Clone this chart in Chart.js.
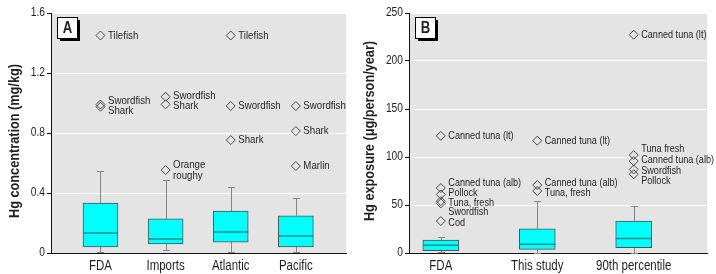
<!DOCTYPE html>
<html>
<head>
<meta charset="utf-8">
<script src="https://cdn.jsdelivr.net/npm/chart.js@4.4.0/dist/chart.umd.min.js"></script>
<style>
  body{margin:0;background:#fff;}
  .panel{position:absolute;top:0;height:274px;}
  #wrapA{left:0;width:356px;}
  #wrapB{left:356px;width:360px;}
</style>
</head>
<body>
<div class="panel" id="wrapA"><canvas id="chartA"></canvas></div>
<div class="panel" id="wrapB"><canvas id="chartB"></canvas></div>
<script>
// ---- Panel A: Hg concentration (mg/kg) ----
const catsA = ["FDA", "Imports", "Atlantic", "Pacific"];
const lowA = [0.007, 0.02, 0.01, 0.01];
const q1A  = [0.04, 0.06, 0.073, 0.04];
const medA = [0.133, 0.093, 0.14, 0.113];
const q3A  = [0.333, 0.227, 0.28, 0.247];
const highA = [0.547, 0.487, 0.44, 0.367];
const outCatA = [1, 1, 1, 2, 2, 2, 3, 3, 3, 4, 4, 4];
const outValA = [1.45, 0.99, 0.975, 1.042, 0.991, 0.553, 1.45, 0.98, 0.753, 0.98, 0.813, 0.58];
const outNameA = ["Tilefish", "Swordfish", "Shark", "Swordfish", "Shark", "Orange\nroughy",
                  "Tilefish", "Swordfish", "Shark", "Swordfish", "Shark", "Marlin"];
const ticksA = [0, 0.4, 0.8, 1.2, 1.6];
const tickLabelsA = ["0", "0.4", "0.8", "1.2", "1.6"];

// ---- Panel B: Hg exposure (ug/person/year) ----
const catsB = ["FDA", "This study", "90th percentile"];
const lowB = [1, 0, 0];
const q1B  = [2.4, 3.8, 5.5];
const medB = [8, 9, 15];
const q3B  = [13.5, 25.3, 33.3];
const highB = [16.3, 53.8, 49];
const outCatB = [1, 1, 1, 1, 1, 1, 2, 2, 2, 3, 3, 3, 3, 3];
const outValB = [122, 67.7, 61, 54, 51.7, 33.3, 117, 70.8, 64.6, 227.4, 102, 95.8, 87, 82];
const outNameB = ["Canned tuna (lt)", "Canned tuna (alb)", "Pollock", "Tuna, fresh", "Swordfish", "Cod",
                  "Canned tuna (lt)", "Canned tuna (alb)", "Tuna, fresh",
                  "Canned tuna (lt)", "Tuna fresh", "Canned tuna (alb)", "Swordfish", "Pollock"];
const ticksB = [0, 50, 100, 150, 200, 250];
const tickLabelsB = ["0", "50", "100", "150", "200", "250"];

// label nudges (px) so stacked names don't collide, as in the original
const labelDyA = [0, -4, 4, -1, 1.5, 0, 0, 0, 0, 0, 0, 0];
const labelDyB = [0, -5, -2, 1.5, 9, 2, 0, -2, 2, 0, -6, -1, 1, 7];

const FONT = '"Liberation Sans", Arial, sans-serif';
const INK = '#231f20';
const SQUEEZE = 0.82; // no narrow font installed, so squeeze regular one

// condensed text helper
function txt(ctx, s, x, y, size, opts = {}) {
  ctx.save();
  ctx.translate(x, y);
  if (opts.rot) ctx.rotate(opts.rot);
  ctx.scale(SQUEEZE, 1);
  ctx.font = (opts.bold ? 'bold ' : '') + size + 'px ' + FONT;
  ctx.fillStyle = INK;
  ctx.textAlign = opts.align || 'left';
  ctx.textBaseline = 'middle';
  ctx.fillText(s, 0, 0);
  ctx.restore();
}

function makePanel(id, o) {
  const boxPlugin = {
    id: 'box_' + id,
    beforeDraw(chart) {
      const {ctx, chartArea: a} = chart;
      ctx.save();
      ctx.fillStyle = '#e4e4e4';
      ctx.fillRect(a.left, a.top, a.right - a.left, a.bottom - a.top);
      ctx.restore();
    },
    beforeDatasetsDraw(chart) {
      const {ctx, scales: {x, y}} = chart;
      ctx.save();
      ctx.strokeStyle = '#858585';
      ctx.lineWidth = 1;
      o.cats.forEach((c, i) => {
        const px = Math.round(x.getPixelForValue(i + 1)) + 0.5;
        const hi = Math.round(y.getPixelForValue(o.high[i])) + 0.5;
        const lo = Math.round(y.getPixelForValue(o.low[i])) + 0.5;
        ctx.beginPath();
        ctx.moveTo(px, hi);
        ctx.lineTo(px, y.getPixelForValue(o.q3[i]));
        ctx.moveTo(px, y.getPixelForValue(o.q1[i]));
        ctx.lineTo(px, lo);
        // caps
        ctx.moveTo(px - 3.5, hi); ctx.lineTo(px + 3.5, hi);
        ctx.moveTo(px - 3.5, lo); ctx.lineTo(px + 3.5, lo);
        ctx.stroke();
      });
      ctx.restore();
    },
    afterDatasetsDraw(chart) {
      const {ctx, scales: {y}} = chart;
      ctx.save();
      // medians
      ctx.strokeStyle = '#1f8c8c';
      ctx.lineWidth = 1.5;
      chart.getDatasetMeta(0).data.forEach((bar, i) => {
        const py = y.getPixelForValue(o.med[i]);
        ctx.beginPath();
        ctx.moveTo(bar.x - bar.width / 2, py);
        ctx.lineTo(bar.x + bar.width / 2, py);
        ctx.stroke();
      });
      ctx.restore();
      // outlier names
      chart.getDatasetMeta(1).data.forEach((pt, i) => {
        const lines = o.outName[i].split('\n');
        const y0 = pt.y + o.labelDy[i] - (lines.length - 1) * 5.5;
        lines.forEach((ln, k) => txt(ctx, ln, pt.x + 7.5, y0 + k * 11, o.labelSize));
      });
    },
    afterDraw(chart) {
      const {ctx, chartArea: a, scales: {x, y}} = chart;
      // tick labels
      o.ticks.forEach((v, i) => txt(ctx, o.tickLabels[i], a.left - 6, y.getPixelForValue(v), 12.5, {align: 'right'}));
      o.cats.forEach((c, i) => txt(ctx, c, x.getPixelForValue(i + 1), a.bottom + 13, 14, {align: 'center'}));
      // y-axis title
      txt(ctx, o.title, o.titleX, o.titleY, 15.5, {bold: true, align: 'center', rot: -Math.PI / 2});
      // panel letter box
      ctx.save();
      const bx = a.left + 6, by = a.top + 4;
      ctx.fillStyle = '#000';
      ctx.fillRect(bx + 3, by + 3, 20, 21);
      ctx.fillStyle = '#fff';
      ctx.fillRect(bx, by, 20, 21);
      ctx.strokeStyle = '#000';
      ctx.lineWidth = 1;
      ctx.strokeRect(bx + 0.5, by + 0.5, 20, 21);
      ctx.restore();
      txt(ctx, o.letter, bx + 10.5, by + 11.5, 16, {bold: true, align: 'center'});
    }
  };

  return new Chart(document.getElementById(id), {
    type: 'bar',
    data: {
      datasets: [
        {
          data: o.cats.map((c, i) => ({x: i + 1, y: [o.q1[i], o.q3[i]]})),
          backgroundColor: '#00ffff',
          borderColor: '#505050',
          borderWidth: 1,
          borderSkipped: false,
          barThickness: o.boxW
        },
        {
          type: 'scatter',
          data: o.outVal.map((v, i) => ({x: o.outCat[i], y: v})),
          pointStyle: 'rectRot',
          radius: 4.5,
          borderColor: '#4a4a4a',
          borderWidth: 1,
          backgroundColor: 'rgba(0,0,0,0)'
        }
      ]
    },
    options: {
      responsive: true,
      maintainAspectRatio: false,
      animation: false,
      events: [],
      layout: {padding: {top: 13, right: o.padRight, left: 0, bottom: 0}},
      plugins: {legend: {display: false}, tooltip: {enabled: false}},
      scales: {
        x: {
          type: 'linear',
          min: o.xMin, max: o.xMax,
          offset: false,
          afterBuildTicks: s => { s.ticks = o.cats.map((c, i) => ({value: i + 1})); },
          afterFit: s => { s.height = 21; },
          ticks: {display: false},
          grid: {display: true, drawOnChartArea: false, drawTicks: false},
          border: {display: true, color: '#111', width: 1}
        },
        y: {
          min: o.ticks[0], max: o.ticks[o.ticks.length - 1],
          afterBuildTicks: s => { s.ticks = o.ticks.map(v => ({value: v})); },
          afterFit: s => { s.width = o.axisW; },
          ticks: {display: false},
          grid: {color: '#ffffff', lineWidth: 1, tickColor: '#111', tickLength: 4},
          border: {display: true, color: '#111', width: 1}
        }
      }
    },
    plugins: [boxPlugin]
  });
}

makePanel('chartA', {
  cats: catsA, low: lowA, q1: q1A, med: medA, q3: q3A, high: highA,
  outCat: outCatA, outVal: outValA, outName: outNameA, labelDy: labelDyA,
  ticks: ticksA, tickLabels: tickLabelsA, labelSize: 11.8,
  letter: 'A', title: 'Hg concentration (mg/kg)', titleX: 15, titleY: 141,
  xMin: 0.24, xMax: 4.77, axisW: 51, padRight: 10, boxW: 35
});

makePanel('chartB', {
  cats: catsB, low: lowB, q1: q1B, med: medB, q3: q3B, high: highB,
  outCat: outCatB, outVal: outValB, outName: outNameB, labelDy: labelDyB,
  ticks: ticksB, tickLabels: tickLabelsB, labelSize: 11.1,
  letter: 'B', title: 'Hg exposure (\u03bcg/person/year)', titleX: 14, titleY: 131,
  xMin: 0.67, xMax: 3.76, axisW: 53, padRight: 9, boxW: 36
});
</script>
</body>
</html>
